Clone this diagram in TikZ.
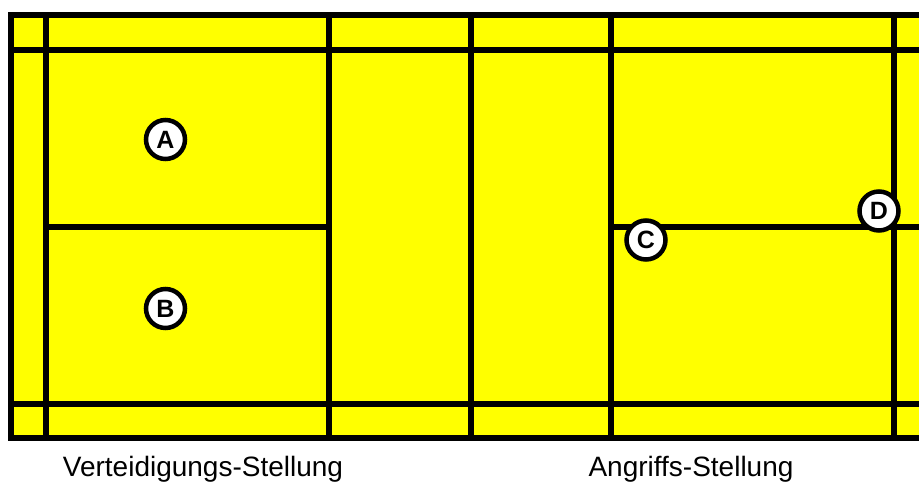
\documentclass[tikz,border=0pt]{standalone}
\usepackage{fontspec}
\setmainfont{Liberation Sans}
\definecolor{courtyellow}{RGB}{255,255,0}
\begin{document}
\begin{tikzpicture}[x=1pt,y=-1pt,
  courtline/.style={line width=6pt,black},
  player/.style={circle,draw=black,fill=white,line width=4.5pt,minimum size=39pt,inner sep=0pt,font=\fontsize{25}{25}\selectfont\bfseries},
  caption/.style={font=\fontsize{28}{28}\selectfont,anchor=base,inner sep=0pt}]
\useasboundingbox (0,0) rectangle (919,487);
\begin{scope}
\clip (0,0) rectangle (919,487);
\fill[courtyellow] (11,15) rectangle (940,438);
\draw[courtline] (11,15) rectangle (940,438);
\draw[courtline] (11,50) -- (940,50);
\draw[courtline] (11,404) -- (940,404);
\foreach \x in {46,329,471,611,894} \draw[courtline] (\x,15) -- (\x,438);
\draw[courtline] (46,227) -- (329,227);
\draw[courtline] (611,227) -- (940,227);
\end{scope}
\node[player] (a) at (165.5,139.5) {A};
\node[player] (b) at (165.5,308.5) {B};
\node[player] (c) at (646,240) {C};
\node[player] (d) at (879,211) {D};
\node[caption] (l1) at (203,476) {Verteidigungs-Stellung};
\node[caption] (l2) at (691,476) {Angriffs-Stellung};
\end{tikzpicture}
\end{document}
